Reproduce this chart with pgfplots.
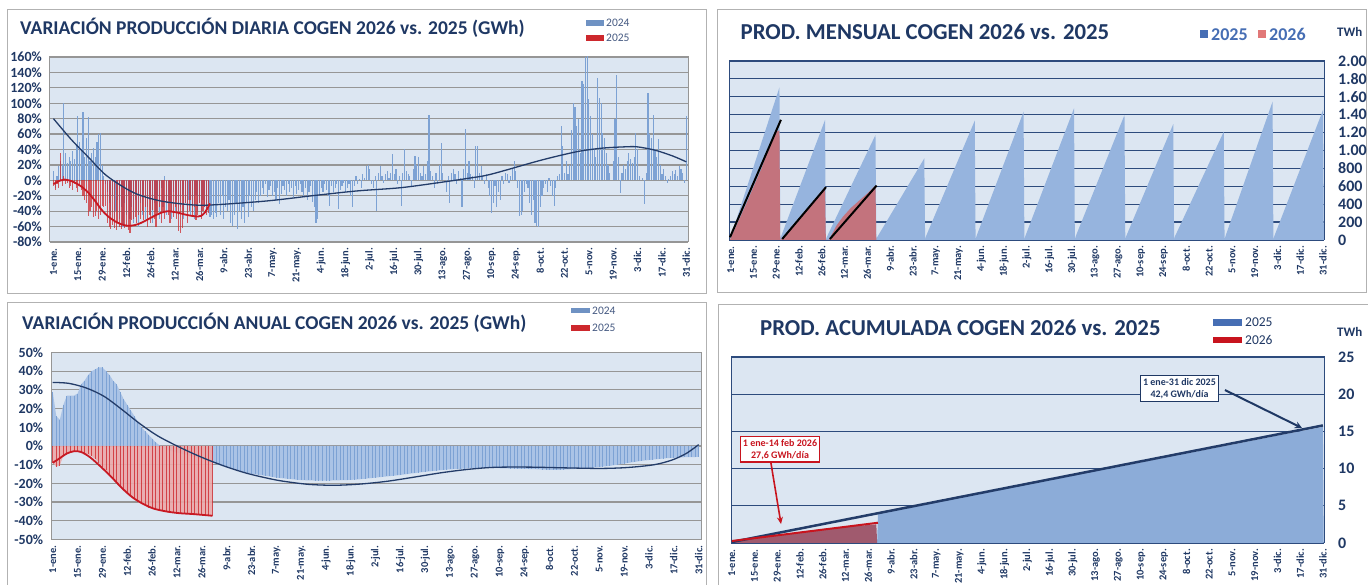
\documentclass[border=0pt]{standalone}
\usepackage{pgfplots}
\pgfplotsset{compat=1.18}
\usepackage{pgfplotstable}
\usepackage{fontspec}
\setmainfont{Carlito}
\usetikzlibrary{arrows.meta}

\definecolor{navy}{RGB}{31,56,100}
\definecolor{bgc}{RGB}{220,230,242}
\definecolor{gridg}{RGB}{150,150,150}
\definecolor{gridn}{RGB}{45,75,125}
\definecolor{barblue}{RGB}{125,162,212}
\definecolor{barred}{RGB}{205,40,45}
\definecolor{trendblue}{RGB}{35,60,105}
\definecolor{trendred}{RGB}{200,25,35}
\definecolor{areablue}{RGB}{150,180,222}
\definecolor{areablue2}{RGB}{140,172,216}
\definecolor{areared}{RGB}{195,115,125}
\definecolor{areared2}{RGB}{160,90,110}
\definecolor{fillblue}{RGB}{170,195,230}
\definecolor{fillred}{RGB}{235,170,170}
\definecolor{legtext}{RGB}{70,90,130}
\definecolor{legblue}{RGB}{70,110,180}
\definecolor{legpink}{RGB}{225,120,120}
\definecolor{annred}{RGB}{200,20,30}

\newcommand\yf{\fontsize{14}{14}\selectfont\bfseries}
\newcommand\yfb{\fontsize{16}{16}\selectfont\bfseries}
\newcommand\xf{\fontsize{10.5}{11}\selectfont\bfseries}

% Panel 1: daily variation, blue series (days 1..365)
\pgfplotstableread[row sep=\\]{v\\
12\\-10\\5\\18\\25\\20\\100\\35\\22\\30\\25\\38\\28\\45\\83\\50\\40\\88\\30\\55\\82\\25\\35\\42\\30\\50\\60\\62\\20\\5\\-5\\
-15\\-30\\-45\\-20\\-55\\-40\\-25\\-50\\-35\\-60\\-30\\-45\\-20\\-50\\-35\\-55\\-25\\-40\\-60\\-30\\-45\\-20\\-50\\-35\\-25\\-45\\-55\\-30\\
-40\\-20\\-50\\-10\\-35\\5\\-45\\-25\\-30\\-50\\-15\\-40\\-25\\-45\\-35\\-20\\-50\\-30\\-40\\-25\\-45\\-35\\-50\\-20\\-40\\-30\\-45\\-25\\-35\\-40\\-30\\
-48\\-45\\-50\\-42\\-48\\-30\\-45\\-20\\-50\\-35\\-40\\-25\\-55\\-59\\-45\\-30\\-63\\-40\\-50\\-35\\-55\\-30\\-48\\-20\\-35\\-40\\-25\\-15\\-30\\-20\\
-10\\-18\\-5\\-22\\-12\\-8\\-20\\-15\\-25\\-10\\-31\\-18\\-8\\-12\\-20\\-5\\-15\\-10\\-22\\-8\\-18\\-12\\-5\\-15\\-20\\-10\\-25\\-15\\-8\\-28\\-35\\
-55\\-50\\-20\\-10\\-15\\-5\\-12\\-20\\-33\\-8\\-15\\-10\\-5\\-37\\-12\\-8\\-3\\-15\\-10\\-5\\-20\\-35\\-8\\5\\-5\\2\\-10\\8\\3\\18\\
20\\15\\-5\\-10\\5\\-40\\10\\18\\5\\-3\\8\\12\\3\\10\\34\\8\\15\\-5\\5\\-33\\10\\40\\12\\8\\5\\-8\\15\\32\\20\\30\\10\\
5\\18\\8\\25\\85\\12\\5\\-10\\10\\-5\\20\\49\\10\\0\\-15\\5\\-29\\10\\15\\8\\-5\\12\\3\\-35\\15\\66\\10\\25\\8\\5\\-10\\
44\\44\\10\\18\\5\\-5\\8\\-10\\-20\\-42\\-30\\-8\\-35\\-15\\-25\\5\\-5\\10\\8\\-3\\5\\15\\25\\12\\-10\\-46\\-45\\-40\\-15\\-5\\
-10\\-30\\-45\\-25\\-55\\-59\\-60\\-35\\-20\\-10\\-5\\-15\\3\\-8\\-20\\-33\\-10\\5\\8\\70\\45\\10\\25\\8\\20\\65\\100\\95\\70\\80\\35\\
129\\125\\160\\165\\105\\83\\60\\40\\30\\133\\107\\100\\62\\55\\35\\20\\10\\0\\25\\79\\137\\30\\-16\\10\\20\\15\\25\\35\\28\\22\\
30\\62\\40\\5\\0\\3\\-31\\10\\113\\60\\55\\85\\40\\30\\53\\20\\8\\15\\5\\-3\\2\\5\\12\\8\\14\\5\\18\\15\\10\\-3\\83\\
}\dayblue

% Panel 1: daily variation, red series (days 1..90)
\pgfplotstableread[row sep=\\]{v\\
-8\\-12\\-5\\-10\\35\\-8\\5\\-5\\-3\\-10\\
-8\\-12\\-5\\-10\\-15\\-8\\-12\\-20\\-25\\-30\\
-46\\-40\\-35\\-48\\-46\\-40\\-50\\-45\\-33\\-35\\
-33\\-55\\-60\\-63\\-58\\-62\\-65\\-55\\-60\\-63\\
-58\\-62\\-60\\-65\\-68\\-52\\-50\\-48\\-55\\-45\\
-50\\-40\\-52\\-35\\-60\\-45\\-55\\-38\\-50\\-60\\
-42\\-35\\-55\\-40\\-50\\-30\\-45\\-55\\-40\\-48\\
-35\\-50\\-66\\-68\\-62\\-45\\-30\\-55\\-40\\-25\\
-48\\-35\\-52\\-45\\-30\\-50\\-40\\-35\\-45\\-42\\
}\dayred

% Panel 3: annual variation, blue series (odd days 1,3,...,365)
\pgfplotstableread[row sep=\\]{v\\
29\\16\\14\\22\\27\\27\\27\\28\\33\\35\\38\\40\\41\\42\\42\\40\\38\\35\\33\\29\\25\\22\\19\\16\\13\\10\\8\\6\\4\\2\\
0.5\\-1\\-2\\-2.5\\-3\\-3.5\\-4\\-4.5\\-5\\-5.5\\-6\\-6.6\\-7.2\\-7.8\\-8.3\\-8.8\\-9.5\\-10.2\\-10.8\\-11.4\\
-12\\-12.5\\-13\\-13.5\\-14\\-14.4\\-14.8\\-15.1\\-15.4\\-15.7\\
-16\\-16.3\\-16.6\\-16.9\\-17.1\\-17.3\\-17.5\\-17.7\\-17.9\\-18.1\\
-18.2\\-18.3\\-18.4\\-18.4\\-18.5\\-18.5\\-18.5\\-18.5\\-18.5\\-18.4\\
-18.4\\-18.3\\-18.3\\-18.2\\-18.1\\-18\\-17.9\\-17.7\\-17.5\\-17.3\\
-17.1\\-16.9\\-16.7\\-16.5\\-16.3\\-16.1\\-15.9\\-15.7\\-15.5\\-15.2\\
-15\\-14.7\\-14.5\\-14.2\\-14\\-13.8\\-13.6\\-13.4\\-13.2\\-13\\
-12.8\\-12.6\\-12.5\\-12.4\\-12.3\\-12.2\\-12.1\\-12\\-11.9\\-11.8\\
-11.8\\-11.7\\-11.7\\-11.7\\-11.8\\-11.8\\-11.9\\-12\\-12\\-12.1\\
-12.1\\-12.2\\-12.2\\-12.3\\-12.3\\-12.4\\-12.4\\-12.5\\-12.6\\-12.7\\
-12.8\\-12.8\\-12.8\\-12.7\\-12.6\\-12.5\\-12.4\\-12.3\\-12.2\\-12.1\\
-12\\-11.8\\-11.6\\-11.4\\-11.2\\-11\\-10.8\\-10.6\\-10.3\\-10\\
-9.7\\-9.4\\-9.1\\-8.8\\-8.5\\-8.2\\-7.9\\-7.7\\-7.5\\-7.3\\
-7.1\\-6.9\\-6.7\\-6.5\\-6.4\\-6.3\\-6.2\\-6.1\\-6\\-6\\
-5.9\\-5.9\\-5.8\\
}\annblue

% Panel 3: annual variation, red series (odd days 1,3,...,91)
\pgfplotstableread[row sep=\\]{v\\
-9\\-11\\-10.5\\-5\\-4.5\\-3.5\\-3\\-3\\-3.2\\-3.8\\
-4.5\\-5.5\\-7\\-9\\-11\\-13\\-15.5\\-17.5\\-19.5\\-21.5\\
-23.5\\-25.5\\-27\\-28.5\\-30\\-31\\-32\\-33\\-33.6\\-34.2\\
-34.6\\-35\\-35.3\\-35.6\\-35.8\\-36\\-36.1\\-36.3\\-36.4\\-36.6\\
-36.7\\-36.9\\-37\\-37.2\\-37.4\\-37.6\\
}\annred

\pgfplotsset{
  base/.style={
    scale only axis, anchor=south west,
    axis background/.style={fill=bgc},
    xtick={1,15,...,365},
    xticklabels={1-ene.,15-ene.,29-ene.,12-feb.,26-feb.,12-mar.,26-mar.,9-abr.,23-abr.,7-may.,21-may.,4-jun.,18-jun.,2-jul.,16-jul.,30-jul.,13-ago.,27-ago.,10-sep.,24-sep.,8-oct.,22-oct.,5-nov.,19-nov.,3-dic.,17-dic.,31-dic.},
    xticklabel style={rotate=90, anchor=east, font=\xf, text=navy, inner xsep=6pt, inner ysep=0pt},
    major tick length=0pt,
    ymajorgrids,
    /pgf/number format/assume math mode=true,
  },
  leftlab/.style={yticklabel style={anchor=east, inner sep=0pt, xshift=-8pt, font=\yf, text=navy},
    grid style={draw=gridg, line width=1.2pt}, axis line style={draw=gridg, line width=1pt}},
  rightlab/.style={yticklabel pos=right, yticklabel style={anchor=west, inner sep=0pt, xshift=14pt, font=\yfb, text=navy},
    grid style={draw=gridn, line width=1.2pt}, axis line style={draw=gridn, line width=1pt}},
}

\begin{document}
\begin{tikzpicture}[x=1pt,y=1pt]
\useasboundingbox (0,0) rectangle (1368,585);
\clip (0,0) rectangle (1368,585);
\fill[white] (0,0) rectangle (1368,585);

% frames
\draw[gray!60, line width=1pt] (7,291) rectangle (706,575);
\draw[gray!60, line width=1pt] (717,292) rectangle (1366,575);
\draw[gray!60, line width=1pt] (7,-5) rectangle (706,282);
\draw[gray!60, line width=1pt] (718,-5) rectangle (1372,280);

% ---------------- Panel 1 ----------------
\begin{axis}[base, leftlab, at={(50pt,343pt)}, width=638pt, height=185pt,
  xmin=-1, xmax=366, ymin=-80, ymax=160,
  ytick={-80,-60,...,160},
  yticklabels={-80\%,-60\%,-40\%,-20\%,0\%,20\%,40\%,60\%,80\%,100\%,120\%,140\%,160\%}]
\addplot[ycomb, draw=barblue, line width=1.15pt, mark=none] table[x expr=\coordindex+1, y=v]{\dayblue};
\addplot[ycomb, draw=barred, opacity=0.75, line width=1.1pt, mark=none] table[x expr=\coordindex+1, y=v]{\dayred};
\addplot[smooth, draw=trendblue, line width=1.3pt, mark=none] coordinates {
(1,80)(11.2,53)(21.5,29)(31.8,5.6)(47.1,-16)(62.5,-26.7)(80.5,-31.8)(93.3,-31.8)(124,-26.7)(149.8,-20)(175.4,-13.8)(201,-9.5)(226.7,-1.7)(239.5,2.6)(252.3,7.7)(278,24)(290.8,31.4)(303.6,37.8)(316.4,41.7)(329.2,43.4)(336.9,43.4)(347.2,39)(357.4,31.4)(365,24)};
\addplot[smooth, draw=trendred, line width=1.8pt, mark=none] coordinates {
(1,-5)(4,-1)(7.5,1)(10,0)(13.3,-3)(17,-8)(21,-16)(25,-27)(28.6,-38)(32,-46)(36.3,-53)(40,-57)(43.9,-59)(48,-58)(51.6,-55)(55,-51)(59.2,-46)(63,-42)(66.9,-40)(70,-41)(72.6,-42)(76,-44)(80.3,-46)(84,-47)(86,-46)(88,-42)(89.9,-35)(91,-30)};
\end{axis}

% ---------------- Panel 2 ----------------
\begin{axis}[base, rightlab, at={(729pt,345pt)}, width=595pt, height=179pt,
  xmin=0, xmax=365.6, ymin=0, ymax=2000,
  ytick={0,200,...,2000},
  yticklabels={0,200,400,600,800,1.00,1.20,1.40,1.60,1.80,2.00}]
\addplot[fill=areablue, draw=none, mark=none] coordinates {
(0.5,0)(1,30)(31,1706)(31.5,0)(32,40)(59,1341)(59.5,0)(60,30)(90,1173)(90.5,0)(91,30)(120,912)(120.5,0)(121,40)(151,1333)(151.5,0)(152,40)(181,1434)(181.5,0)(182,40)(212,1471)(212.5,0)(213,40)(243,1397)(243.5,0)(244,40)(273,1296)(273.5,0)(274,40)(304,1210)(304.5,0)(305,40)(334,1546)(334.5,0)(335,40)(365,1453)(365.5,0)} \closedcycle;
\addplot[fill=areared, draw=none, mark=none] coordinates {
(0.5,0)(1,20)(10,380)(20,800)(26,1100)(29,1210)(31,1224)(31.5,0)(32,0)(32.5,15)(40,180)(50,390)(59,590)(59.5,0)(61.5,0)(62,20)(66,160)(70,260)(75,360)(80,440)(85,520)(90,608)(90.5,0)} \closedcycle;
\addplot[black, line width=2pt, mark=none] coordinates {(0.6,30)(31.9,1343)};
\addplot[black, line width=2pt, mark=none] coordinates {(32.7,11)(59.6,590)};
\addplot[black, line width=2pt, mark=none] coordinates {(62,11)(90.7,608)};
\end{axis}

% ---------------- Panel 3 ----------------
\begin{axis}[base, leftlab, at={(51.3pt,45.5pt)}, width=650pt, height=187pt,
  xmin=0.2, xmax=366.5, ymin=-50, ymax=50,
  ytick={-50,-40,...,50},
  yticklabels={-50\%,-40\%,-30\%,-20\%,-10\%,0\%,10\%,20\%,30\%,40\%,50\%}]
\addplot[fill=fillblue, draw=none, mark=none] table[x expr=2*\coordindex+1, y=v]{\annblue} \closedcycle;
\addplot[ycomb, draw=barblue, line width=0.9pt, mark=none] table[x expr=2*\coordindex+1, y=v]{\annblue};
\addplot[fill=fillred, draw=none, opacity=0.9, mark=none] table[x expr=2*\coordindex+1, y=v]{\annred} \closedcycle;
\addplot[ycomb, draw=barred, line width=0.9pt, opacity=0.8, mark=none] table[x expr=2*\coordindex+1, y=v]{\annred};
\addplot[smooth, draw=trendblue, line width=1.3pt, mark=none] coordinates {
(1,34)(10,33.5)(20,31)(30,26.5)(40,19.5)(50,12)(60,5.5)(70,0.5)(80,-4)(90,-8)(100,-11.5)(110,-14.5)(120,-16.8)(130,-18.7)(145,-20.5)(160,-21)(175,-20.3)(190,-18.8)(205,-16.6)(220,-14.3)(235,-12.5)(250,-11.4)(270,-11.3)(290,-11.7)(310,-12)(325,-11.5)(340,-10)(350,-7.5)(358,-4)(365,0.7)};
\addplot[smooth, draw=trendred, line width=1.8pt, mark=none] coordinates {
(1,-9)(5,-6.5)(9,-4)(13,-2.8)(17,-3.2)(22,-6)(28,-11)(34,-16.5)(40,-22.5)(46,-27.5)(52,-31)(58,-33.5)(65,-35)(72,-35.9)(80,-36.4)(91,-37.3)};
\end{axis}

% ---------------- Panel 4 ----------------
\begin{axis}[base, rightlab, at={(731pt,42pt)}, width=593pt, height=186pt,
  xmin=0.5, xmax=365.7, ymin=0, ymax=25,
  ytick={0,5,...,25}, yticklabels={0,5,10,15,20,25}]
\addplot[fill=areablue2, draw=none, mark=none] coordinates {
(90.5,0)(91,4.0)(120,5.2)(151,6.5)(181,7.8)(212,9.1)(243,10.4)(273,11.7)(304,13.0)(334,14.3)(365,15.6)(365.5,0)} \closedcycle;
\addplot[fill=areared2, draw=none, mark=none] coordinates {
(0.5,0)(1,0.03)(15,0.6)(30,1.1)(45,1.55)(60,1.95)(75,2.25)(90,2.5)(90.5,0)} \closedcycle;
\addplot[trendblue, line width=2.5pt, mark=none] coordinates {(1,0.13)(365,15.8)};
\addplot[annred, line width=2pt, mark=none] coordinates {(1,0.27)(91,2.72)};
\node[draw=annred, line width=1.2pt, fill=white, text=annred, font=\fontsize{10}{12}\selectfont\bfseries, align=center, inner sep=2.5pt] at (axis cs:30.7,12.6) {1 ene-14 feb 2026\\27,6 GWh/día};
\draw[annred, line width=1.6pt, -{Stealth[length=7pt,width=6pt]}] (axis cs:25.1,10.75) -- (axis cs:31.3,2.55);
\node[draw=navy, line width=1pt, fill=white, text=navy, font=\fontsize{10}{12}\selectfont\bfseries, align=center, inner sep=2.5pt] at (axis cs:276.7,20.77) {1 ene-31 dic 2025\\42,4 GWh/día};
\draw[navy, line width=2pt, -{Stealth[length=7pt,width=7pt]}] (axis cs:304.7,20.56) -- (axis cs:352.1,15.46);
\end{axis}

% ---------------- titles ----------------
\node[anchor=base west, inner sep=0, text=navy, font=\fontsize{19.5}{20}\selectfont\bfseries] at (20,550) {VARIACIÓN PRODUCCIÓN DIARIA COGEN 2026 vs. 2025 (GWh)};
\node[anchor=base west, inner sep=0, text=navy, font=\fontsize{22.8}{23}\selectfont\bfseries] at (740.5,545) {PROD. MENSUAL COGEN 2026 vs. 2025};
\node[anchor=base west, inner sep=0, text=navy, font=\fontsize{19.5}{20}\selectfont\bfseries] at (22,255) {VARIACIÓN PRODUCCIÓN ANUAL COGEN 2026 vs. 2025 (GWh)};
\node[anchor=base west, inner sep=0, text=navy, font=\fontsize{22.8}{23}\selectfont\bfseries] at (760,249) {PROD. ACUMULADA COGEN 2026 vs. 2025};

% ---------------- legends ----------------
\fill[barblue!85!navy] (586,559) rectangle (604,564.5);
\node[anchor=west, inner sep=0, text=legtext, font=\fontsize{11.5}{12}\selectfont] at (606,561.7) {2024};
\fill[barred] (586,544.3) rectangle (604,550);
\node[anchor=west, inner sep=0, text=legtext, font=\fontsize{11.5}{12}\selectfont] at (606,547) {2025};

\fill[barblue!85!navy] (571,272) rectangle (590,277);
\node[anchor=west, inner sep=0, text=legtext, font=\fontsize{11.5}{12}\selectfont] at (592,274) {2024};
\fill[barred] (571,254) rectangle (590,260);
\node[anchor=west, inner sep=0, text=legtext, font=\fontsize{11.5}{12}\selectfont] at (592,257) {2025};

\fill[legblue] (1200,546.5) rectangle (1208,554.5);
\node[anchor=west, inner sep=0, text=legblue, font=\fontsize{18}{18}\selectfont\bfseries] at (1211,550.7) {2025};
\fill[legpink] (1258,546.5) rectangle (1266,554.5);
\node[anchor=west, inner sep=0, text=legblue, font=\fontsize{18}{18}\selectfont\bfseries] at (1269,550.7) {2026};
\node[anchor=west, inner sep=0, text=navy, font=\fontsize{13}{13}\selectfont\bfseries] at (1337,553.5) {TWh};

\fill[legblue] (1213,259) rectangle (1242,266);
\node[anchor=west, inner sep=0, text=navy, font=\fontsize{13.5}{14}\selectfont] at (1245,263) {2025};
\fill[annred] (1213,242) rectangle (1242,248);
\node[anchor=west, inner sep=0, text=navy, font=\fontsize{13.5}{14}\selectfont] at (1245,245) {2026};
\node[anchor=west, inner sep=0, text=navy, font=\fontsize{13}{13}\selectfont\bfseries] at (1337,253) {TWh};
\end{tikzpicture}
\end{document}
